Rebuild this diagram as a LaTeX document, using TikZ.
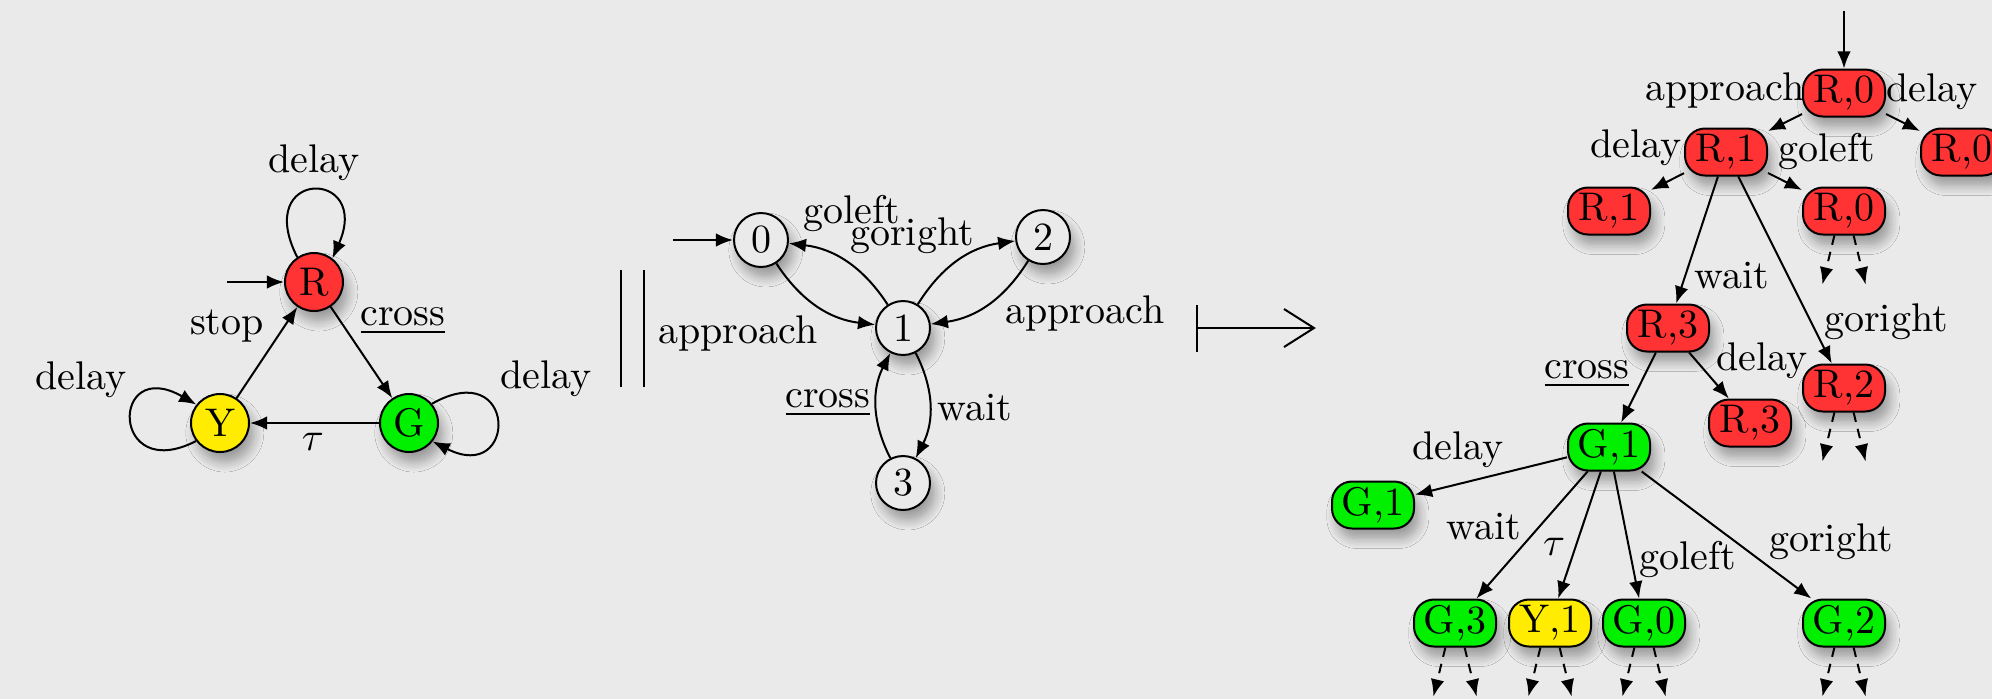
\documentclass[tikz,border=0pt]{standalone}
\usetikzlibrary{arrows.meta,shadows.blur}
\definecolor{bg}{RGB}{234,234,234}
\definecolor{sred}{RGB}{255,51,51}
\definecolor{sgreen}{RGB}{0,240,0}
\definecolor{syellow}{RGB}{255,236,0}
\begin{document}
\begin{tikzpicture}[x=0.25pt,y=0.25pt,
  >={Latex[length=4.3pt,width=3.4pt]},
  line width=0.5pt,
  shad/.style={blur shadow={shadow xshift=1.2pt,shadow yshift=-2.5pt,shadow blur radius=2.5pt,shadow blur steps=8,shadow opacity=35}},
  st/.style={circle,draw,minimum size=14.5pt,inner sep=0pt,shad},
  mst/.style={circle,draw,fill=bg,minimum size=13.5pt,inner sep=0pt,shad},
  tn/.style={rectangle,rounded corners=5pt,draw,minimum width=20.5pt,minimum height=11.75pt,inner sep=0pt,shad},
  lbl/.style={inner sep=0pt},
  dasharr/.style={->,dashed,dash pattern=on 2.4pt off 1.8pt}]
\fill[bg] (0,0) rectangle (1992,-699);
\useasboundingbox (0,0) rectangle (1992,-699);
\clip (0,0) rectangle (1992,-699);

% ---------- left automaton ----------
\node[st,fill=sred] (R) at (314,-282) {R};
\node[st,fill=syellow] (Y) at (220,-423) {Y};
\node[st,fill=sgreen] (G) at (409,-423) {G};
\coordinate (Rin) at (227,-282);
\draw[->] (Rin) -- (R);
\draw[->] (R.124) .. controls (252,-168) and (372,-168) .. (R.52);
\draw[->] (Y.217) .. controls (110,-485) and (110,-355) .. (Y.142);
\draw[->] (G.40) .. controls (518,-355) and (518,-485) .. (G.-38);
\draw[->] (Y) -- (R);
\draw[->] (R) -- (G);
\draw[->] (G) -- (Y);
\node[lbl] (lRd) at (314,-163) {delay};
\node[lbl] (lstop) at (227,-326) {stop};
\node[lbl] (lcross) at (403,-321) {\underline{cross}};
\node[lbl] (lYd) at (81,-380) {delay};
\node[lbl] (lGd) at (546,-379) {delay};
\node[lbl] (ltau) at (313,-442) {$\tau$};

% parallel symbol
\draw (621,-270) -- (621,-387);
\draw (644,-270) -- (644,-387);

% ---------- middle automaton ----------
\node[mst] (m0) at (761,-240) {0};
\node[mst] (m1) at (903,-328) {1};
\node[mst] (m2) at (1043,-237) {2};
\node[mst] (m3) at (903,-483) {3};
\coordinate (m0in) at (673,-240);
\draw[->] (m0in) -- (m0);
\draw[->] (m0) to[bend right=25] (m1);
\draw[->] (m1) to[bend right=25] (m0);
\draw[->] (m1) to[bend left=25] (m2);
\draw[->] (m2) to[bend left=25] (m1);
\draw[->] (m1) to[bend left=27] (m3);
\draw[->] (m3) to[bend left=27] (m1);
\node[lbl] (lgl) at (852,-214) {goleft};
\node[lbl] (lgr) at (912,-236) {goright};
\node[lbl] (lap1) at (738,-333) {approach};
\node[lbl] (lap2) at (1085,-313) {approach};
\node[lbl] (lcr) at (828,-403) {\underline{cross}};
\node[lbl] (lwt) at (975,-408) {wait};

% maps-to symbol
\draw (1197,-305) -- (1197,-352);
\draw (1197,-328) -- (1314,-328);
\draw (1284,-309) -- (1314,-328) -- (1284,-347);

% ---------- tree ----------
\node[tn,fill=sred] (t0) at (1844,-93) {R,0};
\node[tn,fill=sred] (t1) at (1726,-152) {R,1};
\node[tn,fill=sred] (t0r) at (1962,-152) {R,0};
\node[tn,fill=sred] (t1l) at (1609,-211) {R,1};
\node[tn,fill=sred] (t0g) at (1844,-211) {R,0};
\node[tn,fill=sred] (t3) at (1668,-328) {R,3};
\node[tn,fill=sred] (t2) at (1844,-388) {R,2};
\node[tn,fill=sred] (t3d) at (1750,-423) {R,3};
\node[tn,fill=sgreen] (g1) at (1609,-447) {G,1};
\node[tn,fill=sgreen] (g1d) at (1373,-505) {G,1};
\node[tn,fill=sgreen] (g3) at (1455,-623) {G,3};
\node[tn,fill=syellow] (y1) at (1550,-623) {Y,1};
\node[tn,fill=sgreen] (g0) at (1644,-623) {G,0};
\node[tn,fill=sgreen] (g2) at (1844,-623) {G,2};

\coordinate (tin) at (1844,-11);
\draw[->] (tin) -- (t0);
\draw[->] (t0) -- (t1);
\draw[->] (t0) -- (t0r);
\draw[->] (t1) -- (t1l);
\draw[->] (t1) -- (t0g);
\draw[->] (t1) -- (t3);
\draw[->] (t1) -- (t2);
\draw[->] (t3) -- (g1);
\draw[->] (t3) -- (t3d);
\draw[->] (g1) -- (g1d);
\draw[->] (g1) -- (g3);
\draw[->] (g1) -- (y1);
\draw[->] (g1) -- (g0);
\draw[->] (g1) -- (g2);

\foreach \n in {t0g,t2,g3,y1,g0,g2}{
  \draw[dasharr] ([xshift=-2.4pt]\n.south) -- ++(-12,-49);
  \draw[dasharr] ([xshift=2.4pt]\n.south) -- ++(12,-49);
}

\node[lbl] (ta) at (1725,-90) {approach};
\node[lbl] (td) at (1932,-92) {delay};
\node[lbl] (td2) at (1636,-148) {delay};
\node[lbl] (tgl) at (1827,-152) {goleft};
\node[lbl] (tw) at (1732,-276) {wait};
\node[lbl] (tgr) at (1886,-322) {goright};
\node[lbl] (tcr) at (1587,-374) {\underline{cross}};
\node[lbl] (td3) at (1762,-361) {delay};
\node[lbl] (td4) at (1458,-450) {delay};
\node[lbl] (tw2) at (1484,-527) {wait};
\node[lbl] (ttau) at (1554,-547) {$\tau$};
\node[lbl] (tgl2) at (1688,-560) {goleft};
\node[lbl] (tgr2) at (1831,-542) {goright};
\end{tikzpicture}
\end{document}
